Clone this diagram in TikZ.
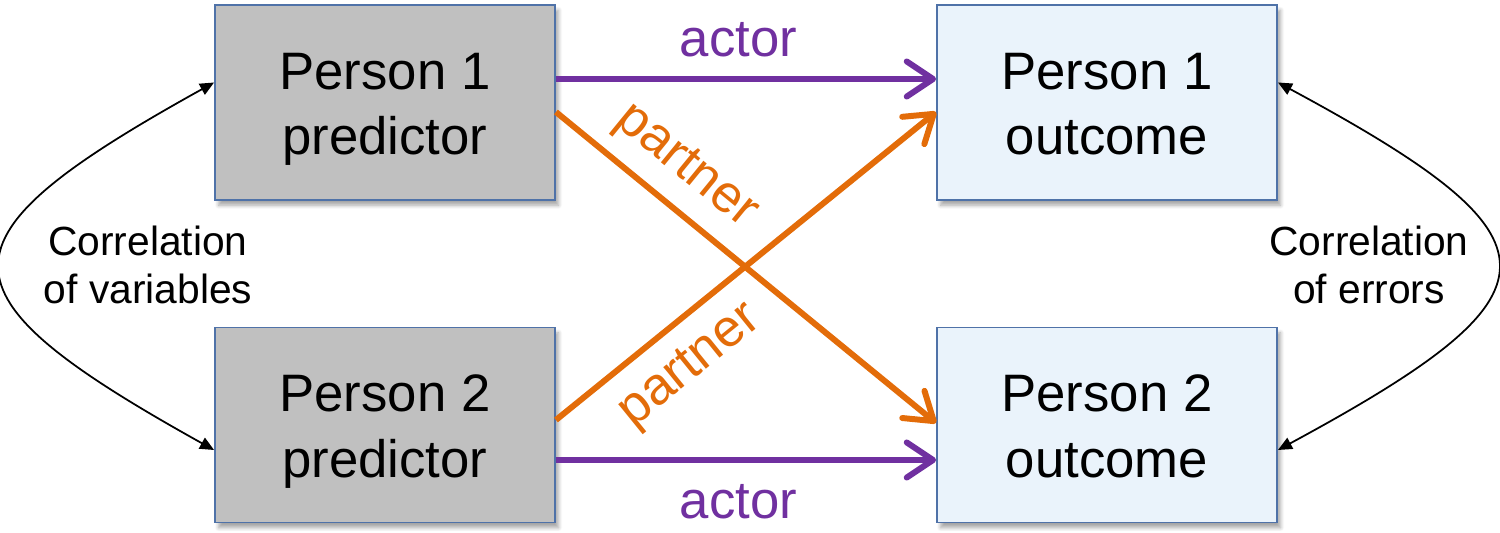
\documentclass[tikz,border=0pt]{standalone}
\usepackage{fontspec}
\setmainfont{Liberation Sans}
\usetikzlibrary{arrows.meta,shadows.blur}
\definecolor{actorc}{HTML}{7030A0}
\definecolor{partnerc}{HTML}{E36C09}
\definecolor{predfill}{HTML}{C0C0C0}
\definecolor{outfill}{HTML}{EAF3FB}
\definecolor{boxline}{HTML}{4F72A8}
\newcommand\topstr{\rule{0pt}{1.0cm}}
\newcommand\botstr{\rule[-0.22cm]{0pt}{0.22cm}}
\begin{document}
\begin{tikzpicture}[x=0.02cm,y=-0.02cm,
  box/.style={draw=boxline, line width=1.1pt, minimum width=6.8cm, minimum height=3.9cm,
    align=center, inner sep=0pt, font=\fontsize{30}{37}\selectfont,
    blur shadow={shadow xshift=2pt, shadow yshift=-3pt, shadow blur steps=6, shadow opacity=35}},
  predbox/.style={box, fill=predfill},
  outbox/.style={box, fill=outfill},
  actorarrow/.style={draw=actorc, line width=3.4pt, -{Straight Barb[length=15pt,width=20pt,round]}},
  partnerarrow/.style={draw=partnerc, line width=3.4pt, -{Straight Barb[length=15pt,width=20pt,round]}},
  corr/.style={draw=black, line width=1pt, {Triangle[length=8pt,width=7pt]}-{Triangle[length=8pt,width=7pt]}},
  pathlabel/.style={inner sep=0pt, font=\fontsize{30}{34}\selectfont},
  corrlabel/.style={align=center, inner sep=0pt, font=\fontsize{23.2}{27.3}\selectfont}
]
\useasboundingbox (0,0) rectangle (1500,533);

\node[predbox] (p1p) at (385,102.5) {\topstr Person 1\\predictor\botstr};
\node[predbox] (p2p) at (385,425) {\topstr Person 2\\predictor\botstr};
\node[outbox] (p1o) at (1107,102.5) {\topstr Person 1\\outcome\botstr};
\node[outbox] (p2o) at (1107,425) {\topstr Person 2\\outcome\botstr};

\draw[actorarrow] ([yshift=0.47cm]p1p.east) -- ([yshift=0.47cm]p1o.west)
  node[pathlabel, pos=0.48, above=0.38cm, text=actorc] {actor};
\draw[actorarrow] ([yshift=-0.7cm]p2p.east) -- ([yshift=-0.7cm]p2o.west)
  node[pathlabel, pos=0.48, below=0.43cm, text=actorc] {actor};

\draw[partnerarrow] ([yshift=-0.19cm]p1p.east) -- ([yshift=0.04cm]p2o.west)
  node[pathlabel, pos=0.275, sloped, above=0.28cm, text=partnerc] {partner};
\draw[partnerarrow] ([yshift=0.1cm]p2p.east) -- ([yshift=-0.19cm]p1o.west)
  node[pathlabel, pos=0.283, sloped, below=0.36cm, text=partnerc] {partner};

\draw[corr] ([yshift=0.4cm]p1p.west) .. controls (-70,240) and (-70,292) .. ([yshift=-0.5cm]p2p.west);
\draw[corr] ([yshift=0.4cm]p1o.east) .. controls (1570,240) and (1570,292) .. ([yshift=-0.5cm]p2o.east);

\node[corrlabel] (cv) at (148,265) {Correlation\\of variables};
\node[corrlabel] (ce) at (1369,265) {Correlation\\of errors};
\end{tikzpicture}
\end{document}
